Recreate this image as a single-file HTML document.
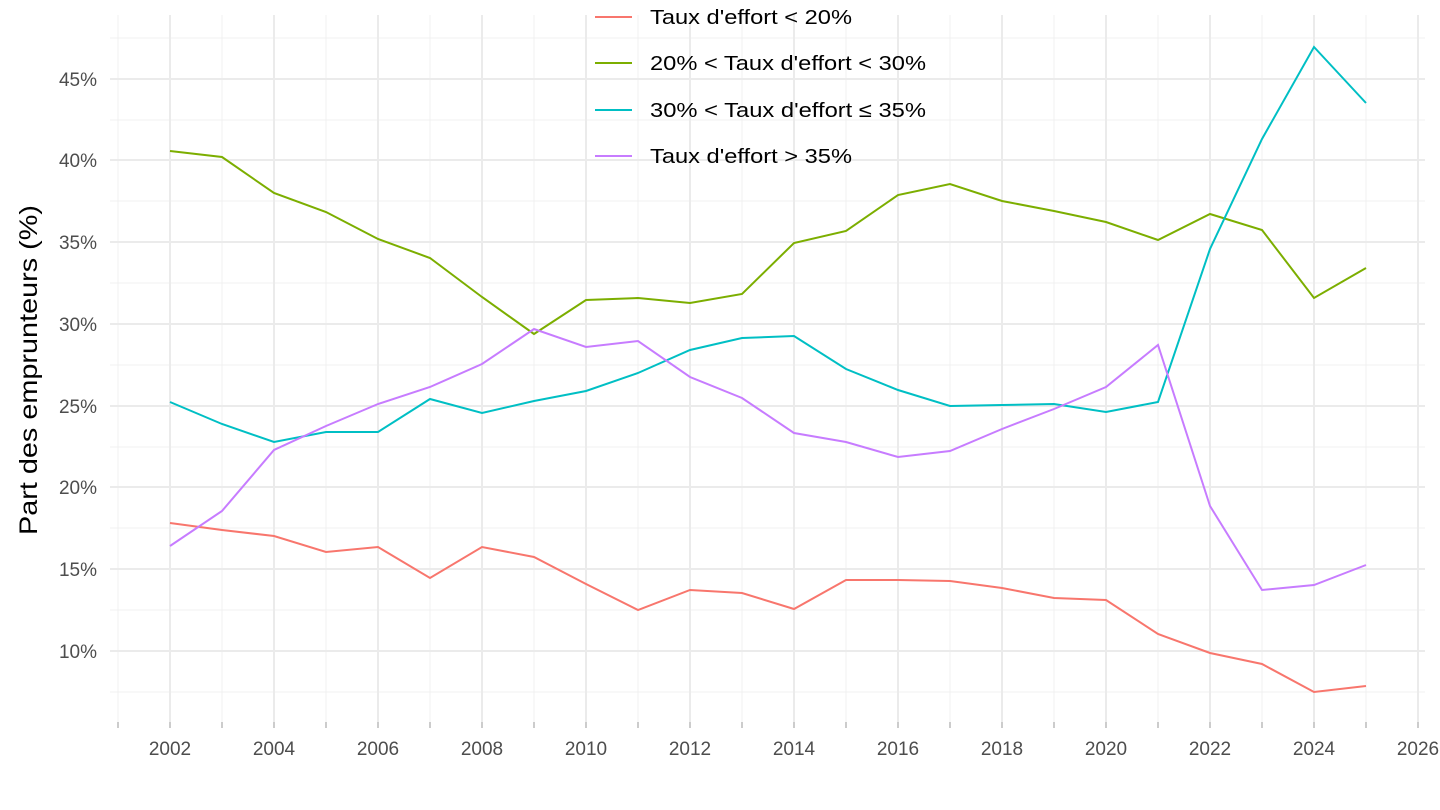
<!DOCTYPE html>
<html><head><meta charset="utf-8"><style>
body{margin:0;background:#fff;}
svg{display:block;font-family:"Liberation Sans",Arial,sans-serif;}
</style></head><body>
<svg width="1440" height="810" viewBox="0 0 1440 810">
<g stroke="#f0f0f0" stroke-width="1">
<line x1="110" x2="1425" y1="692" y2="692"/><line x1="110" x2="1425" y1="610" y2="610"/><line x1="110" x2="1425" y1="528" y2="528"/><line x1="110" x2="1425" y1="447" y2="447"/><line x1="110" x2="1425" y1="365" y2="365"/><line x1="110" x2="1425" y1="283" y2="283"/><line x1="110" x2="1425" y1="201" y2="201"/><line x1="110" x2="1425" y1="120" y2="120"/><line x1="110" x2="1425" y1="38" y2="38"/>
<line x1="118" x2="118" y1="15" y2="722"/><line x1="222" x2="222" y1="15" y2="722"/><line x1="326" x2="326" y1="15" y2="722"/><line x1="430" x2="430" y1="15" y2="722"/><line x1="534" x2="534" y1="15" y2="722"/><line x1="638" x2="638" y1="15" y2="722"/><line x1="742" x2="742" y1="15" y2="722"/><line x1="846" x2="846" y1="15" y2="722"/><line x1="950" x2="950" y1="15" y2="722"/><line x1="1054" x2="1054" y1="15" y2="722"/><line x1="1158" x2="1158" y1="15" y2="722"/><line x1="1262" x2="1262" y1="15" y2="722"/><line x1="1366" x2="1366" y1="15" y2="722"/>
</g>
<g stroke="#ebebeb" stroke-width="2">
<line x1="110" x2="1425" y1="651" y2="651"/><line x1="110" x2="1425" y1="569" y2="569"/><line x1="110" x2="1425" y1="487" y2="487"/><line x1="110" x2="1425" y1="406" y2="406"/><line x1="110" x2="1425" y1="324" y2="324"/><line x1="110" x2="1425" y1="242" y2="242"/><line x1="110" x2="1425" y1="160" y2="160"/><line x1="110" x2="1425" y1="79" y2="79"/>
<line x1="170" x2="170" y1="15" y2="722"/><line x1="274" x2="274" y1="15" y2="722"/><line x1="378" x2="378" y1="15" y2="722"/><line x1="482" x2="482" y1="15" y2="722"/><line x1="586" x2="586" y1="15" y2="722"/><line x1="690" x2="690" y1="15" y2="722"/><line x1="794" x2="794" y1="15" y2="722"/><line x1="898" x2="898" y1="15" y2="722"/><line x1="1002" x2="1002" y1="15" y2="722"/><line x1="1106" x2="1106" y1="15" y2="722"/><line x1="1210" x2="1210" y1="15" y2="722"/><line x1="1314" x2="1314" y1="15" y2="722"/><line x1="1418" x2="1418" y1="15" y2="722"/>
</g>
<g fill="none" stroke-width="2">
<polyline stroke="#F8766D" points="170,523 222,530 274,536 326,552 378,547 430,578 482,547 534,557 586,584 638,610 690,590 742,593 794,609 846,580 898,580 950,581 1002,588 1054,598 1106,600 1158,634 1210,653 1262,664 1314,692 1366,686"/>
<polyline stroke="#7CAE00" points="170,151 222,157 274,193 326,212 378,239 430,258 482,297 534,334 586,300 638,298 690,303 742,294 794,243 846,231 898,195 950,184 1002,201 1054,211 1106,222 1158,240 1210,214 1262,230 1314,298 1366,268"/>
<polyline stroke="#00BFC4" points="170,402 222,424 274,442 326,432 378,432 430,399 482,413 534,401 586,391 638,373 690,350 742,338 794,336 846,369 898,390 950,406 1002,405 1054,404 1106,412 1158,402 1210,249 1262,139 1314,47 1366,103"/>
<polyline stroke="#C77CFF" points="170,546 222,511 274,450 326,426 378,404 430,387 482,364 534,329 586,347 638,341 690,377 742,398 794,433 846,442 898,457 950,451 1002,429 1054,409 1106,387 1158,345 1210,506 1262,590 1314,585 1366,565"/>
</g>
<g font-size="19" fill="#4d4d4d" text-anchor="end">
<text x="97" y="658">10%</text><text x="97" y="576">15%</text><text x="97" y="494">20%</text><text x="97" y="413">25%</text><text x="97" y="331">30%</text><text x="97" y="249">35%</text><text x="97" y="167">40%</text><text x="97" y="86">45%</text>
</g>
<g stroke="#999" stroke-width="1">
<line x1="118" x2="118" y1="722" y2="728"/><line x1="170" x2="170" y1="722" y2="728"/><line x1="222" x2="222" y1="722" y2="728"/><line x1="274" x2="274" y1="722" y2="728"/><line x1="326" x2="326" y1="722" y2="728"/><line x1="378" x2="378" y1="722" y2="728"/><line x1="430" x2="430" y1="722" y2="728"/><line x1="482" x2="482" y1="722" y2="728"/><line x1="534" x2="534" y1="722" y2="728"/><line x1="586" x2="586" y1="722" y2="728"/><line x1="638" x2="638" y1="722" y2="728"/><line x1="690" x2="690" y1="722" y2="728"/><line x1="742" x2="742" y1="722" y2="728"/><line x1="794" x2="794" y1="722" y2="728"/><line x1="846" x2="846" y1="722" y2="728"/><line x1="898" x2="898" y1="722" y2="728"/><line x1="950" x2="950" y1="722" y2="728"/><line x1="1002" x2="1002" y1="722" y2="728"/><line x1="1054" x2="1054" y1="722" y2="728"/><line x1="1106" x2="1106" y1="722" y2="728"/><line x1="1158" x2="1158" y1="722" y2="728"/><line x1="1210" x2="1210" y1="722" y2="728"/><line x1="1262" x2="1262" y1="722" y2="728"/><line x1="1314" x2="1314" y1="722" y2="728"/><line x1="1366" x2="1366" y1="722" y2="728"/><line x1="1418" x2="1418" y1="722" y2="728"/>
</g>
<g font-size="19" fill="#4d4d4d" text-anchor="middle">
<text x="170" y="755">2002</text><text x="274" y="755">2004</text><text x="378" y="755">2006</text><text x="482" y="755">2008</text><text x="586" y="755">2010</text><text x="690" y="755">2012</text><text x="794" y="755">2014</text><text x="898" y="755">2016</text><text x="1002" y="755">2018</text><text x="1106" y="755">2020</text><text x="1210" y="755">2022</text><text x="1314" y="755">2024</text><text x="1418" y="755">2026</text>
</g>
<text transform="translate(37,370) rotate(-90)" font-size="25" fill="#000" text-anchor="middle" textLength="330" lengthAdjust="spacingAndGlyphs">Part des emprunteurs (%)</text>
<g stroke-width="2">
<line x1="595" x2="632" y1="17" y2="17" stroke="#F8766D"/>
<line x1="595" x2="632" y1="63" y2="63" stroke="#7CAE00"/>
<line x1="595" x2="632" y1="110" y2="110" stroke="#00BFC4"/>
<line x1="595" x2="632" y1="156" y2="156" stroke="#C77CFF"/>
</g>
<g font-size="20.5" fill="#000">
<text x="650" y="24" textLength="202" lengthAdjust="spacingAndGlyphs">Taux d'effort &lt; 20%</text>
<text x="650" y="70" textLength="276" lengthAdjust="spacingAndGlyphs">20% &lt; Taux d'effort &lt; 30%</text>
<text x="650" y="117" textLength="276" lengthAdjust="spacingAndGlyphs">30% &lt; Taux d'effort ≤ 35%</text>
<text x="650" y="163" textLength="202" lengthAdjust="spacingAndGlyphs">Taux d'effort &gt; 35%</text>
</g>
</svg>
</body></html>
